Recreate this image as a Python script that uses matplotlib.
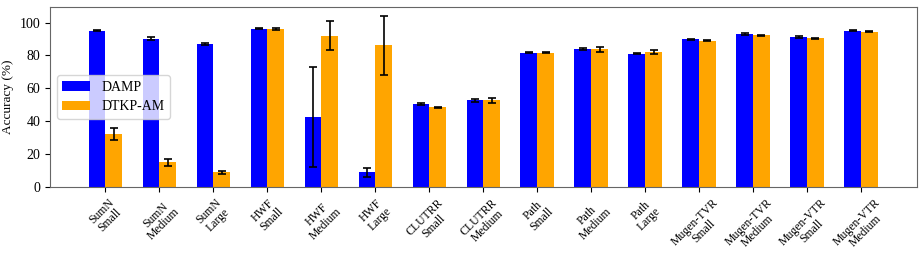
import matplotlib
matplotlib.use("Agg")
import matplotlib.pyplot as plt
import numpy as np

plt.rcParams['font.family'] = ['Liberation Serif', 'DejaVu Serif']

categories = ["SumN\nSmall", "SumN\nMedium", "SumN\nLarge", "HWF\nSmall", "HWF\nMedium", "HWF\nLarge",
              "CLUTRR\nSmall", "CLUTRR\nMedium", "Path\nSmall", "Path\nMedium", "Path\nLarge",
              "Mugen-TVR\nSmall", "Mugen-TVR\nMedium", "Mugen-VTR\nSmall", "Mugen-VTR\nMedium"]

damp = [95.2, 90.3, 86.9, 96.3, 42.6, 8.9, 50.3, 52.9, 81.6, 84.0, 81.2, 89.9, 92.9, 91.1, 95.0]
damp_err = [0.4, 0.7, 0.6, 0.3, 30.5, 2.7, 0.5, 0.9, 0.3, 0.4, 0.2, 0.3, 0.6, 0.6, 0.3]
dtkp = [32.1, 15.0, 9.0, 96.2, 92.1, 86.1, 48.5, 52.7, 81.6, 83.8, 82.4, 89.1, 92.3, 90.5, 94.5]
dtkp_err = [3.5, 2.0, 1.0, 0.6, 8.7, 18.0, 0.3, 1.6, 0.3, 1.4, 1.2, 0.3, 0.3, 0.4, 0.3]
series_labels = ["DAMP", "DTKP-AM"]

fig = plt.figure(figsize=(9.24, 2.59), dpi=100)
ax = fig.add_axes([0.054, 0.278, 0.938, 0.695])

x = np.arange(len(categories))
w = 0.31
ekw = dict(elinewidth=1.2, capthick=1.2)
ax.bar(x - w / 2, damp, w, yerr=damp_err, capsize=3, color='blue', label=series_labels[0],
       error_kw=ekw)
ax.bar(x + w / 2, dtkp, w, yerr=dtkp_err, capsize=3, color='orange', label=series_labels[1],
       error_kw=ekw)

ax.set_xlim(-1.03, len(categories) + 0.03)
ax.set_ylim(0, 109.5)
ax.set_yticks([0, 20, 40, 60, 80, 100])
ax.set_xticks(x)
ax.set_xticklabels(categories, rotation=45, ha='center', fontsize=8.5, linespacing=1.0)
ax.tick_params(axis='y', labelsize=10)
ax.set_ylabel("Accuracy (%)", fontsize=9.5)
for s in ax.spines.values():
    s.set_color('#666666')
ax.legend(loc='center left', fontsize=10, framealpha=0.8)

fig.savefig("out.png", dpi=100)
